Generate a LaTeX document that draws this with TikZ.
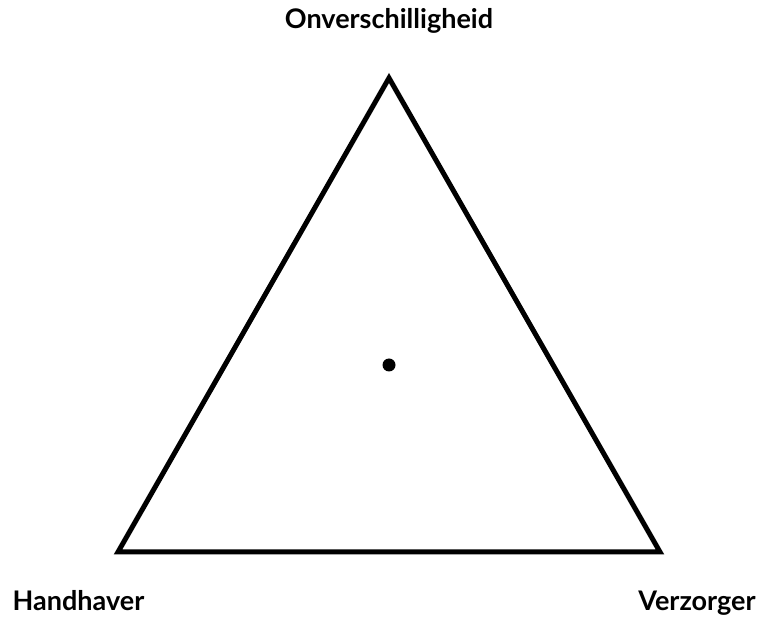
\documentclass[tikz,border=0pt]{standalone}
\usepackage{fontspec}
\setmainfont{Lato}
\begin{document}
\begin{tikzpicture}[
    x=1pt, y=1pt,
    corner/.style={inner sep=0pt, anchor=base, font=\fontsize{27}{32}\selectfont\bfseries},
    side/.style={line width=5pt, line join=miter}
]
    \useasboundingbox (0,0) rectangle (761,619);

    % Vertices of the triangle
    \coordinate (top) at (389,541);
    \coordinate (left) at (118,67);
    \coordinate (right) at (660,67);

    % Labels
    \node[corner] (onv) at (389,590) {Onverschilligheid};
    \node[corner] (hand) at (78.5,9) {Handhaver};
    \node[corner] (verz) at (697,9) {Verzorger};

    % Triangle and centre point
    \draw[side] (top) -- (left) -- (right) -- cycle;
    \fill (389,254) circle (6.5pt);

\end{tikzpicture}
\end{document}
